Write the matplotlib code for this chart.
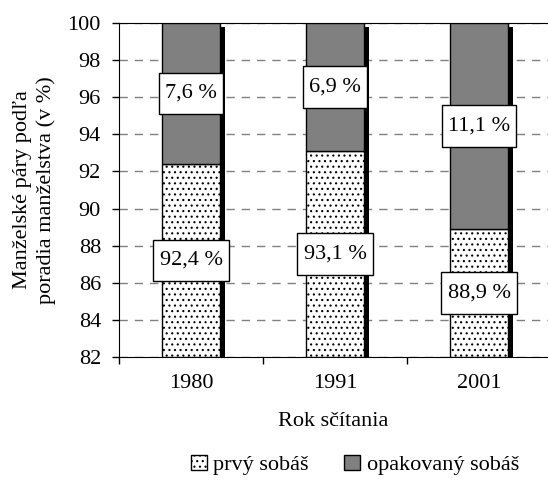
import matplotlib
matplotlib.use("Agg")
import matplotlib.pyplot as plt
from matplotlib.patches import Patch
from matplotlib.path import Path
import numpy as np

years = ["1980", "1991", "2001"]
prvy = [92.4, 93.1, 88.9]
opak = [7.6, 6.9, 11.1]
prvy_lbl = ["92,4 %", "93,1 %", "88,9 %"]
opak_lbl = ["7,6 %", "6,9 %", "11,1 %"]

plt.rcParams['font.family'] = ['Liberation Serif', 'DejaVu Serif']
plt.rcParams['font.size'] = 16
plt.rcParams['hatch.linewidth'] = 0.8


def tallbox(x0, y0, width, height, mutation_size):
    # label box: narrow side padding, taller top/bottom padding
    px = 0.28 * mutation_size
    py = 0.5 * mutation_size
    x0, y0 = x0 - px, y0 - py
    x1, y1 = x0 + width + 2 * px, y0 + height + 2 * py
    return Path([(x0, y0), (x1, y0), (x1, y1), (x0, y1), (x0, y0)], closed=True)


fig = plt.figure(figsize=(5.48, 4.8), dpi=100)
ax = fig.add_axes([119/548, 123/480, 429/548, 334/480])

ymin, ymax = 82, 100
x = np.arange(len(years))
w = 0.4

# shadow behind bars
ax.bar(x + 0.035, np.array(prvy) + np.array(opak) - ymin - 0.2, w, bottom=ymin,
       color='black', zorder=2)
ax.bar(x, np.array(prvy) - ymin, w, bottom=ymin, facecolor='white',
       edgecolor='black', hatch='...', linewidth=1, zorder=3)
ax.bar(x, opak, w, bottom=prvy, facecolor='#808080', edgecolor='black',
       linewidth=1, zorder=3)

box = dict(boxstyle=tallbox, facecolor='white', edgecolor='black', linewidth=1)
for i in range(len(years)):
    ax.text(x[i], (ymin + prvy[i]) / 2, prvy_lbl[i], ha='center', va='center',
            bbox=box, zorder=5)
    ax.text(x[i], prvy[i] + opak[i] / 2, opak_lbl[i], ha='center', va='center',
            bbox=box, zorder=5)

ax.set_ylim(ymin, ymax)
ax.set_xlim(-0.5, 2.5 - 3/144)
ax.set_yticks(np.arange(82, 101, 2))
ax.yaxis.grid(True, color='#808080', linestyle=(0, (6, 5)), linewidth=1)
ax.set_axisbelow(True)

ax.set_xticks([-0.5, 0.5, 1.5])
ax.set_xticklabels([])
ax.set_xticks(x, minor=True)
ax.set_xticklabels(years, minor=True)
ax.tick_params(axis='x', which='minor', length=0, pad=12)
ax.tick_params(axis='x', which='major', length=5, width=1)
ax.tick_params(axis='y', length=5, width=1, pad=8)

ax.spines['right'].set_visible(False)
ax.spines['top'].set_color('black')

ax.set_ylabel("Manželské páry podľa\nporadia manželstva (v %)", labelpad=8,
              linespacing=1.3)
ax.set_xlabel("Rok sčítania", labelpad=14)

handles = [Patch(facecolor='white', edgecolor='black', hatch='...', label='prvý sobáš'),
           Patch(facecolor='#808080', edgecolor='black', label='opakovaný sobáš')]
fig.legend(handles=handles, loc='center', bbox_to_anchor=(355/548, 1 - 465/480),
           ncol=2, frameon=False, handlelength=0.7, handleheight=0.7,
           handletextpad=0.3, columnspacing=1.6)

fig.savefig("out.png", dpi=100)
